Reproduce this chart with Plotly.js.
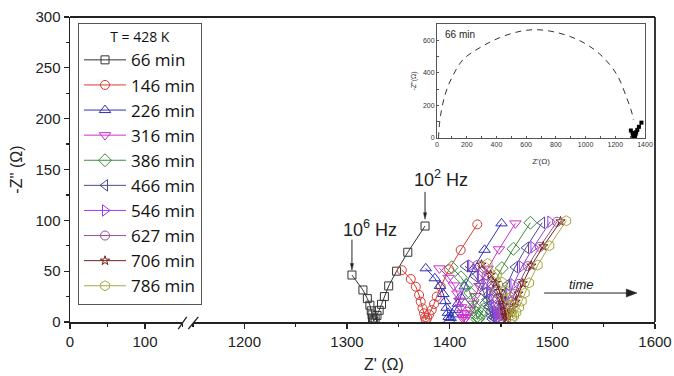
<!DOCTYPE html>
<html>
<head>
<meta charset="utf-8">
<script src="https://cdn.plot.ly/plotly-3.0.1.min.js"></script>
<style>html,body{margin:0;padding:0;background:#fff;}#chart{width:674px;height:376px;}</style>
</head>
<body>
<div id="chart"></div>
<script>
// ---- data ----
const seriesNames = ['66 min','146 min','226 min','316 min','386 min','466 min','546 min','627 min','706 min','786 min'];
const x66 = [1304.8,1315.5,1319.8,1322.3,1323.6,1324.4,1324.8,1325.2,1326.0,1327.4,1329.2,1331.3,1333.6,1336.4,1340.6,1348.3,1359.2,1376.0];
const y66 = [46.2,31.5,23.0,16.5,11.0,7.0,4.0,2.0,1.0,3.0,6.5,11.5,17.4,25.0,35.5,50.0,68.6,94.4];
const x146 = [1353.4,1362.1,1367.0,1370.2,1371.8,1373.5,1375.0,1376.0,1376.7,1378.2,1380.0,1382.5,1384.8,1387.4,1391.3,1399.4,1410.7,1426.9];
const y146 = [51.0,42.3,34.7,26.6,20.0,13.5,8.5,4.5,2.0,4.0,7.5,11.8,17.7,25.0,34.7,51.8,70.8,96.0];
const x226 = [1376.7,1385.5,1390.5,1393.8,1395.6,1397.0,1398.3,1399.0,1399.6,1401.0,1403.0,1405.5,1408.0,1410.6,1414.6,1422.8,1434.0,1450.5];
const y226 = [52.8,43.0,35.5,27.5,20.5,14.0,9.0,5.0,2.0,4.0,7.5,12.0,18.0,25.0,35.0,52.0,71.0,97.0];
const x316 = [1390.0,1399.0,1404.0,1407.5,1409.5,1411.2,1412.5,1413.4,1414.0,1415.5,1417.5,1420.0,1422.5,1425.0,1429.0,1437.0,1448.0,1464.0];
const y316 = [52.8,43.5,36.0,28.0,21.0,14.5,9.0,5.0,2.0,4.0,7.5,12.0,18.0,25.5,35.5,52.5,71.5,97.0];
const x386 = [1402.0,1411.0,1416.5,1420.0,1422.3,1424.0,1425.5,1426.4,1427.0,1428.6,1430.6,1433.2,1435.7,1438.4,1442.5,1450.8,1462.0,1478.6];
const y386 = [53.8,44.0,36.0,28.5,21.5,15.0,9.5,5.5,2.5,4.5,8.0,12.5,18.5,26.0,36.0,53.0,72.0,97.6];
const x466 = [1415.0,1424.5,1430.0,1433.6,1436.0,1437.8,1439.3,1440.3,1441.0,1442.5,1444.5,1447.0,1449.4,1451.9,1455.8,1463.6,1474.4,1490.0];
const y466 = [55.0,45.0,37.0,29.0,22.0,15.5,10.0,6.0,3.0,5.0,8.5,13.0,19.0,26.5,36.5,54.0,73.0,97.6];
const x546 = [1421.0,1430.4,1435.8,1439.3,1441.6,1443.4,1444.8,1445.8,1446.5,1448.1,1450.2,1452.8,1455.3,1458.0,1462.1,1470.3,1481.6,1498.0];
const y546 = [55.5,45.5,37.5,29.5,22.5,16.0,10.5,6.0,3.0,5.0,8.5,13.0,19.5,27.0,37.0,54.5,73.5,98.6];
const x627 = [1427.0,1436.0,1441.0,1444.3,1446.5,1448.2,1449.6,1450.5,1451.2,1452.8,1455.0,1457.7,1460.3,1463.1,1467.4,1476.0,1487.8,1504.5];
const y627 = [56.0,46.0,38.0,30.0,23.0,16.0,10.5,6.5,3.5,5.5,9.0,13.5,20.0,27.5,37.5,55.0,74.0,98.6];
const x706 = [1431.0,1440.0,1445.0,1448.3,1450.5,1452.2,1453.6,1454.5,1455.2,1456.8,1459.0,1461.6,1464.2,1467.0,1471.2,1479.6,1491.2,1508.0];
const y706 = [56.5,46.5,38.5,30.5,23.0,16.5,11.0,6.5,3.5,5.5,9.0,14.0,20.0,28.0,38.0,55.5,74.5,99.0];
const x786 = [1437.0,1446.0,1451.0,1454.3,1456.5,1458.2,1459.6,1460.5,1461.2,1462.8,1465.0,1467.7,1470.3,1473.2,1477.4,1485.8,1497.2,1513.6];
const y786 = [57.5,47.0,39.0,31.0,23.5,17.0,11.5,7.0,4.0,6.0,9.5,14.5,20.5,28.5,38.5,56.0,75.0,99.6];
// inset: fitted arc for 66 min
const arcX = [10,11,14,24,54,99,177,289,424,559,671,806,963,1097,1210,1277,1310,1322];
const arcY = [0,20,60,140,266,369,483,555,617,655,665,648,597,514,390,246,160,110];

const xs = [x66,x146,x226,x316,x386,x466,x546,x627,x706,x786];
const ys = [y66,y146,y226,y316,y386,y466,y546,y627,y706,y786];
const colors = ['#333333','#d63c36','#3030b8','#cc2fcc','#3c8c3c','#4a4a8c','#9a3cf0','#985090','#7a1e1e','#a8a840'];
const symbols = ['square-open','circle-open','triangle-up-open','triangle-down-open','diamond-open','triangle-left-open','triangle-right-open','circle-open','star-open','hexagon-open'];
const msize = [8,9,10,10,10,10,10,9,7,10];

const traces = [];
// empty trace to hold the left (0-150) axis segment
traces.push({x:[], y:[], xaxis:'x', yaxis:'y', type:'scatter', mode:'markers', showlegend:false, hoverinfo:'skip'});
for (let i = 0; i < seriesNames.length; i++) {
  traces.push({
    x: xs[i], y: ys[i], name: seriesNames[i], xaxis:'x2', yaxis:'y',
    type:'scatter', mode:'lines+markers',
    line:{color:colors[i], width:1},
    marker:{symbol:symbols[i], size:msize[i], color:colors[i], line:{width:1, color:colors[i]}},
  });
}
// inset
traces.push({x:arcX, y:arcY, xaxis:'x3', yaxis:'y3', type:'scatter', mode:'lines', line:{color:'#333', width:1, dash:'6px,5px', shape:'spline'}, showlegend:false});
traces.push({x:x66, y:y66, xaxis:'x3', yaxis:'y3', type:'scatter', mode:'lines+markers', line:{color:'#000', width:1}, marker:{symbol:'square', size:4, color:'#000'}, showlegend:false});

const tickFont = {family:'Liberation Sans, Arial, sans-serif', size:15, color:'#222'};
const axCommon = {showgrid:false, zeroline:false, showline:true, linecolor:'#222', linewidth:1.5,
  ticks:'outside', ticklen:5, tickwidth:1.3, tickcolor:'#222', tickfont:tickFont,
  minor:{ticks:'outside', ticklen:3, tickwidth:1.2, tickcolor:'#222'}};

const insetFont = {family:'Liberation Sans, Arial, sans-serif', size:7, color:'#333'};
const insetAx = {showgrid:false, zeroline:false, showline:true, mirror:true, linecolor:'#555', linewidth:1,
  ticks:'inside', ticklen:2, tickcolor:'#555', tickfont:insetFont,
  minor:{ticks:'inside', ticklen:1.5, tickcolor:'#555'}};

const ink = '#222';
const layout = {
  width:674, height:376,
  margin:{l:70, r:19, t:17, b:54},
  paper_bgcolor:'#fff', plot_bgcolor:'rgba(0,0,0,0)',
  showlegend:true,
  xaxis: Object.assign({}, axCommon, {domain:[0,0.1923], range:[0,150], tick0:0, dtick:100, minor:Object.assign({}, axCommon.minor, {dtick:50})}),
  xaxis2: Object.assign({}, axCommon, {domain:[0.2103,1], range:[1150,1600], tick0:1200, dtick:100, anchor:'y', minor:Object.assign({}, axCommon.minor, {tick0:1150, dtick:50})}),
  yaxis: Object.assign({}, axCommon, {anchor:'x', range:[0,300], dtick:50, minor:Object.assign({}, axCommon.minor, {dtick:25}),
    title:{text:"-Z'' (Ω)", font:{family:'Liberation Sans, Arial, sans-serif', size:16, color:ink}, standoff:9}}),
  xaxis3: Object.assign({}, insetAx, {domain:[0.6274,0.9829], range:[0,1400], dtick:200, anchor:'y3', minor:Object.assign({}, insetAx.minor, {dtick:100}),
    title:{text:"Z'(Ω)", font:{family:'Liberation Sans, Arial, sans-serif', size:8, color:'#333'}, standoff:11}}),
  yaxis3: Object.assign({}, insetAx, {domain:[0.6033,0.977], range:[0,700], dtick:200, anchor:'x3', minor:Object.assign({}, insetAx.minor, {dtick:100}),
    title:{text:"-Z''(Ω)", font:{family:'Liberation Sans, Arial, sans-serif', size:7, color:'#333'}, standoff:5}}),
  legend:{x:0.0137, y:0.98, xanchor:'left', yanchor:'top', bgcolor:'#fff', bordercolor:'#555', borderwidth:1,
    font:{family:'Open Sans, sans-serif', size:17, color:'#111'}, itemwidth:42,
    title:{text:'T = 428 K', side:'top center', font:{family:'Open Sans, sans-serif', size:14, color:'#111'}},
    tracegroupgap:0},
  shapes:[
    {type:'line', xref:'paper', yref:'paper', x0:0, x1:1, y0:1, y1:1, line:{color:ink, width:1.8}},
    {type:'line', xref:'paper', yref:'paper', x0:1, x1:1, y0:0, y1:1, line:{color:ink, width:1.8}},
    {type:'line', xref:'paper', yref:'paper', x0:0.185, x1:0.1995, y0:-0.023, y1:0.017, line:{color:ink, width:1.3}},
    {type:'line', xref:'paper', yref:'paper', x0:0.2023, x1:0.2194, y0:-0.023, y1:0.017, line:{color:ink, width:1.3}},
    // arrow shafts and heads
    {type:'line', xref:'x2', yref:'y', x0:1304.8, x1:1304.8, y0:57, y1:81, line:{color:ink, width:1}},
    {type:'path', xref:'x2', yref:'y', path:'M1303.3,57.5 L1306.3,57.5 L1304.8,51 Z', fillcolor:ink, line:{color:ink, width:0.5}},
    {type:'line', xref:'x2', yref:'y', x0:1376, x1:1376, y0:107, y1:128, line:{color:ink, width:1}},
    {type:'path', xref:'x2', yref:'y', path:'M1374.5,107.5 L1377.5,107.5 L1376,101 Z', fillcolor:ink, line:{color:ink, width:0.5}},
    {type:'line', xref:'x2', yref:'y', x0:1492, x1:1573, y0:28.5, y1:28.5, line:{color:ink, width:1}},
    {type:'path', xref:'x2', yref:'y', path:'M1572,32.5 L1572,24.5 L1582.5,28.5 Z', fillcolor:ink, line:{color:ink, width:0.5}}
  ],
  annotations:[
    {xref:'paper', yref:'paper', x:0.537, y:-0.14, xanchor:'center', yanchor:'middle', showarrow:false, text:"Z' (Ω)", font:{family:'Liberation Sans, Arial, sans-serif', size:16, color:ink}},
    {xref:'x2', yref:'y', x:1322.4, y:91.5, showarrow:false, text:'10<sup>6</sup> Hz', font:{family:'Liberation Sans, Arial, sans-serif', size:18, color:ink}},
    {xref:'x2', yref:'y', x:1392, y:141.6, showarrow:false, text:'10<sup>2</sup> Hz', font:{family:'Liberation Sans, Arial, sans-serif', size:18, color:ink}},
    {xref:'x2', yref:'y', x:1528, y:37, showarrow:false, text:'<i>time</i>', font:{family:'Liberation Sans, Arial, sans-serif', size:13, color:ink}},
    {xref:'x3', yref:'y3', x:40, y:680, xanchor:'left', yanchor:'top', showarrow:false, text:'66 min', font:{family:'Liberation Sans, Arial, sans-serif', size:10, color:ink}}
  ]
};

Plotly.newPlot('chart', traces, layout, {displayModeBar:false, staticPlot:true});
</script>
</body>
</html>
